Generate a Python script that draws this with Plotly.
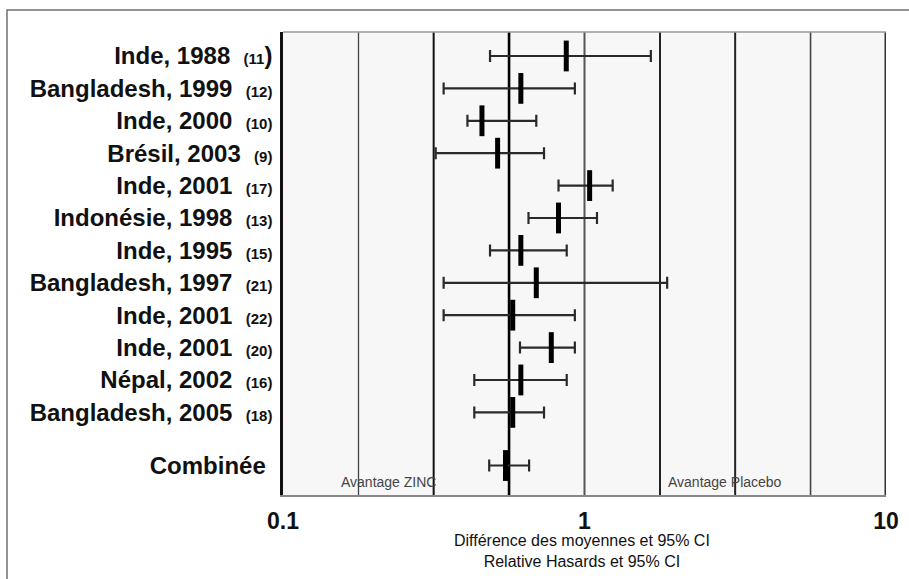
import plotly.graph_objects as go

# ---- data ----
studies = ["Inde, 1988", "Bangladesh, 1999", "Inde, 2000", "Brésil, 2003", "Inde, 2001",
           "Indonésie, 1998", "Inde, 1995", "Bangladesh, 1997", "Inde, 2001", "Inde, 2001",
           "Népal, 2002", "Bangladesh, 2005", "Combinée"]
refs = ["(11", "(12)", "(10)", "(9)", "(17)", "(13)", "(15)", "(21)", "(22)", "(20)",
        "(16)", "(18)", ""]
estimate = [0.87, 0.615, 0.457, 0.515, 1.04, 0.82, 0.615, 0.692, 0.578, 0.776, 0.615, 0.578, 0.547]
ci_low = [0.486, 0.341, 0.409, 0.321, 0.82, 0.652, 0.486, 0.341, 0.341, 0.611, 0.431, 0.431, 0.483]
ci_high = [1.66, 0.929, 0.692, 0.734, 1.24, 1.10, 0.873, 1.88, 0.929, 0.929, 0.873, 0.734, 0.655]
grid_values = [0.178, 0.316, 0.562, 1, 1.78, 3.16, 5.62, 10]
x_ticks = [0.1, 1, 10]
x_ticktext = ["0.1", "1", "10"]
note_left = "Avantage ZINC"
note_right = "Avantage Placebo"
axis_title = ["Différence des moyennes et 95% CI", "Relative Hasards et 95% CI"]

FONT = "Liberation Sans, Arial, Helvetica, sans-serif"

# row layout: even spacing, extra gap before pooled estimate
row_pos = list(range(len(studies) - 1)) + [len(studies) - 1 + 0.64]
y_top, y_bottom = -0.74, 13.55

labels = []
for s, r in zip(studies, refs):
    if r == "(11":
        labels.append(f"{s}  <span style='font-size:15px'>{r}</span>)")
    elif r:
        labels.append(f"{s}  <span style='font-size:15px'>{r}</span>")
    else:
        labels.append(s + " ")

fig = go.Figure()

# vertical reference lines
grid_styles = {
    0.178: ("#444444", 1.3), 0.316: ("#111111", 2.0), 0.562: ("#000000", 2.6),
    1: ("#555555", 2.0), 1.78: ("#222222", 2.0), 3.16: ("#222222", 2.0),
    5.62: ("#444444", 1.6), 10: ("#333333", 3.0),
}
for g in grid_values:
    c, w = grid_styles[g]
    fig.add_trace(go.Scatter(x=[g, g], y=[y_top, y_bottom], mode="lines",
                             line=dict(color=c, width=w), hoverinfo="skip"))

plus = [h - e for h, e in zip(ci_high, estimate)]
minus = [e - l for e, l in zip(estimate, ci_low)]

fig.add_trace(go.Scatter(
    x=estimate, y=row_pos, mode="markers",
    marker=dict(symbol="line-ns", size=22, color="#000",
                line=dict(color="#000", width=5)),
    error_x=dict(type="data", symmetric=False, array=plus, arrayminus=minus,
                 color="#2a2a2a", thickness=2.2, width=6),
))

fig.update_layout(
    template="none", width=909, height=579,
    margin=dict(l=283, r=23, t=32, b=84),
    paper_bgcolor="white", plot_bgcolor="#f7f7f7", showlegend=False,
    font=dict(family=FONT, color="#111"),
)
fig.update_xaxes(type="log", range=[-1, 1], tickvals=x_ticks, ticktext=x_ticktext,
                 showgrid=False, zeroline=False, showline=True, linecolor="#888",
                 linewidth=2, ticks="", ticklabelstandoff=4,
                 tickfont=dict(family=FONT, size=23, color="#111", weight="bold"))
fig.update_yaxes(range=[y_bottom, y_top], tickvals=row_pos, ticktext=labels,
                 showgrid=False, zeroline=False, showline=True, linecolor="#111",
                 linewidth=2.5, ticks="", ticklabelstandoff=3,
                 tickfont=dict(family=FONT, size=24, color="#111", weight="bold"))

W, H = 603.0, 463.0
def px(xp):
    return (xp - 283) / W
def py(yp):
    return (495 - yp) / H

shapes = [
    # top border of plot
    dict(type="line", xref="paper", yref="paper", x0=0, x1=1, y0=1, y1=1,
         line=dict(color="#9a9a9a", width=1.5)),
    # outer frame
    dict(type="rect", xref="paper", yref="paper", x0=px(7), x1=px(915), y0=py(10), y1=py(590),
         line=dict(color="#707070", width=1.5), fillcolor="rgba(0,0,0,0)", layer="below"),
]
fig.update_layout(shapes=shapes)

fig.add_annotation(text=note_left, xref="paper", yref="paper", x=px(339), y=py(482),
                   xanchor="left", yanchor="middle", showarrow=False,
                   font=dict(family=FONT, size=14, color="#444"))
fig.add_annotation(text=note_right, xref="paper", yref="paper", x=px(666), y=py(482),
                   xanchor="left", yanchor="middle", showarrow=False,
                   font=dict(family=FONT, size=14, color="#444"))
fig.add_annotation(text="<br>".join(axis_title), xref="paper", yref="paper",
                   x=px(582), y=py(551), xanchor="center", yanchor="middle",
                   showarrow=False, align="center",
                   font=dict(family=FONT, size=16, color="#111"))

fig.write_html("out.html", config={"displayModeBar": False},
               post_script="document.body.style.margin='0';document.body.style.padding='0';")
